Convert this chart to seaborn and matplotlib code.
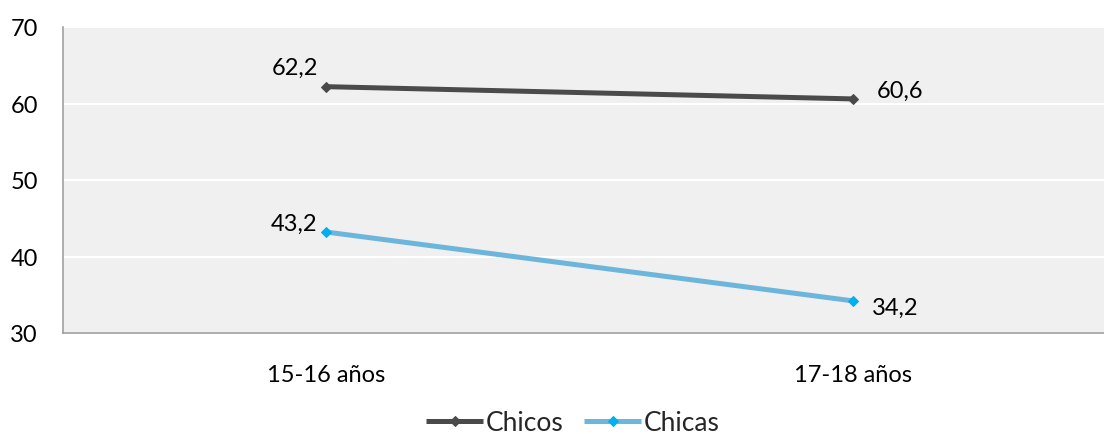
import matplotlib
matplotlib.use("Agg")
import matplotlib.pyplot as plt
import pandas as pd
import seaborn as sns
from matplotlib.ticker import FixedLocator

categories = ["15-16 años", "17-18 años"]
chicos = [62.2, 60.6]
chicas = [43.2, 34.2]
series_names = ["Chicos", "Chicas"]

line_colors = {"Chicos": "#4a4a4a", "Chicas": "#6cb6dc"}
marker_colors = {"Chicos": "#4a4a4a", "Chicas": "#00b0f0"}

df = pd.DataFrame({
    "grupo": categories * 2,
    "valor": chicos + chicas,
    "serie": ["Chicos"] * 2 + ["Chicas"] * 2,
})
df["x"] = df["grupo"].map({c: i for i, c in enumerate(categories)})

sns.set_theme(style="white")
plt.rcParams["font.family"] = ["Lato", "DejaVu Sans"]
fs = 17

fig = plt.figure(figsize=(11.04, 4.35), dpi=100)
ax = fig.add_axes([63 / 1104, 1 - 334 / 435, (1116 - 63) / 1104, (334 - 28) / 435])
ax.set_facecolor("#f0f0f0")

sns.lineplot(data=df, x="x", y="valor", hue="serie", style="serie",
             palette=line_colors, markers={"Chicos": "D", "Chicas": "D"},
             dashes=False, linewidth=3.6, markersize=5, legend=False, ax=ax,
             zorder=3)
for line, name in zip(ax.lines, series_names):
    line.set_markerfacecolor(marker_colors[name])
    line.set_markeredgecolor(marker_colors[name])
    line.set_solid_capstyle("butt")

ax.set_xlim(-0.5, 1.5)
ax.set_ylim(30, 70)
ax.set_yticks([30, 40, 50, 60, 70])
ax.set_xticks([0, 1])
ax.set_xticklabels(categories)
ax.xaxis.set_minor_locator(FixedLocator([-0.5, 0.5, 1.5]))
ax.tick_params(axis="x", which="major", length=0, pad=22, labelsize=fs, colors="#000000")
ax.tick_params(axis="x", which="minor", length=8, width=1, color="#a0a0a0", direction="out")
ax.tick_params(axis="y", length=8, width=1, color="#a0a0a0", direction="out",
               pad=10, labelsize=fs, labelcolor="#000000")
ax.grid(axis="y", color="white", linewidth=1.5)
ax.set_axisbelow(True)
for side in ["top", "right"]:
    ax.spines[side].set_visible(False)
for side in ["left", "bottom"]:
    ax.spines[side].set_color("#a0a0a0")
    ax.spines[side].set_linewidth(1.2)
ax.set_xlabel("")
ax.set_ylabel("")

offsets = {
    ("Chicos", 0): (-31, 19), ("Chicos", 1): (47, 9),
    ("Chicas", 0): (-32, 9), ("Chicas", 1): (42, -6),
}
for name, vals in zip(series_names, [chicos, chicas]):
    for i, v in enumerate(vals):
        dx, dy = offsets[(name, i)]
        ax.annotate(f"{v:.1f}".replace(".", ","), (i, v), xytext=(dx, dy),
                    textcoords="offset pixels", ha="center", va="center",
                    fontsize=fs, color="#000000")

leg = fig.legend(handles=ax.lines[:2], labels=series_names, loc="center",
                 bbox_to_anchor=(573 / 1104, 1 - 424 / 435), ncol=2, frameon=False,
                 fontsize=19, handlelength=2.15, handletextpad=0.1,
                 columnspacing=0.8)

fig.savefig("out.png", dpi=100)
